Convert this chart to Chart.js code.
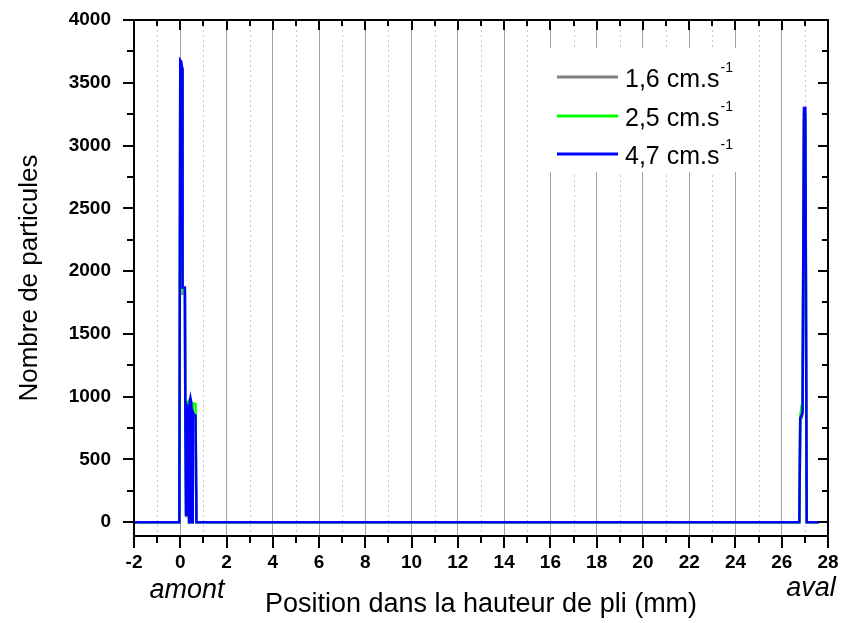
<!DOCTYPE html>
<html>
<head>
<meta charset="utf-8">
<script src="https://cdn.jsdelivr.net/npm/chart.js@4/dist/chart.umd.min.js"></script>
<style>
  body { margin: 0; background: #fff; }
  #graphique { display: block; }
</style>
</head>
<body>
<canvas id="graphique" width="843" height="623"></canvas>
<script>
// Positions (mm) communes aux trois séries
const positions = [-2, -0.04, 0, 0.04, 0.08, 0.1, 0.2, 0.22, 0.25, 0.28, 0.31, 0.34, 0.38, 0.41, 0.44, 0.48, 0.51,
  0.54, 0.58, 0.62, 0.66, 0.7, 26.76, 26.8, 26.86, 26.9, 26.96, 27.02, 27.08, 27.6];

// Nombre de particules pour chaque vitesse
const vitesse16 = [0, 0, 3600, 3590, 3550, 1820, 1820, 830, 50, 900, 890, 910, 0, 930, 950, 920, 0,
  860, 850, 840, 840, 0, 0, 810, 830, 860, 3200, 3200, 0, 0];
const vitesse25 = [0, 0, 3650, 3640, 3600, 1850, 1850, 850, 60, 955, 945, 955, 0, 950, 960, 950, 0,
  940, 945, 945, 940, 0, 0, 840, 930, 930, 3250, 3250, 0, 0];
const vitesse47 = [0, 0, 3680, 3670, 3620, 1870, 1870, 840, 60, 920, 900, 940, 0, 960, 990, 950, 0,
  880, 860, 850, 850, 0, 0, 830, 850, 880, 3300, 3300, 0, 0];

const legendes = ["1,6 cm.s", "2,5 cm.s", "4,7 cm.s"];
const couleurs = ["#808080", "#00ff00", "#0000ff"];

// Graduations
const xTicks = [-2, 0, 2, 4, 6, 8, 10, 12, 14, 16, 18, 20, 22, 24, 26, 28];
const yTicks = [0, 500, 1000, 1500, 2000, 2500, 3000, 3500, 4000];

const police = "'Liberation Sans', Arial, sans-serif";

function points(valeurs) {
  return positions.map((x, i) => ({ x: x, y: valeurs[i] }));
}

// Cadre, graduations, lignes pointillées, légende et annotations
const decor = {
  id: "decor",
  beforeDatasetsDraw(chart) {
    const { ctx, chartArea: a, scales: { x } } = chart;
    ctx.save();
    ctx.strokeStyle = "#c8c8c8";
    ctx.lineWidth = 1;
    ctx.setLineDash([2, 3]);
    for (let v = x.min + 1; v < x.max; v += 2) {
      const px = Math.round(x.getPixelForValue(v)) + 0.5;
      ctx.beginPath();
      ctx.moveTo(px, a.top);
      ctx.lineTo(px, a.bottom);
      ctx.stroke();
    }
    ctx.restore();
  },
  afterDraw(chart) {
    const { ctx, chartArea: a, scales: { x, y } } = chart;
    ctx.save();

    // légende
    ctx.fillStyle = "#fff";
    ctx.fillRect(545, 48, 210, 124);
    const lignesY = [77, 116, 154];
    for (let i = 0; i < legendes.length; i++) {
      ctx.strokeStyle = couleurs[i];
      ctx.lineWidth = 3;
      ctx.beginPath();
      ctx.moveTo(557, lignesY[i]);
      ctx.lineTo(618, lignesY[i]);
      ctx.stroke();
      ctx.fillStyle = "#000";
      ctx.textAlign = "left";
      ctx.textBaseline = "alphabetic";
      ctx.font = "25px " + police;
      ctx.fillText(legendes[i], 625, lignesY[i] + 9.5);
      const w = ctx.measureText(legendes[i]).width;
      ctx.font = "14px " + police;
      ctx.fillText("-1", 625 + w + 1, lignesY[i] - 5);
    }

    // cadre
    ctx.strokeStyle = "#000";
    ctx.lineWidth = 2;
    ctx.strokeRect(a.left, a.top, a.right - a.left, a.bottom - a.top);

    // graduations x
    for (let v = x.min; v <= x.max; v++) {
      const px = Math.round(x.getPixelForValue(v));
      const major = v % 2 === 0;
      ctx.beginPath();
      ctx.moveTo(px, a.bottom);
      ctx.lineTo(px, a.bottom + (major ? 12 : 7));
      ctx.moveTo(px, a.top);
      ctx.lineTo(px, a.top + (major ? 10 : 6));
      ctx.stroke();
    }
    // graduations y
    for (let v = 0; v <= 4000; v += 250) {
      const py = Math.round(y.getPixelForValue(v));
      const major = v % 500 === 0;
      ctx.beginPath();
      ctx.moveTo(a.left, py);
      ctx.lineTo(a.left - (major ? 11 : 7), py);
      ctx.moveTo(a.right, py);
      ctx.lineTo(a.right - (major ? 10 : 6), py);
      ctx.stroke();
    }

    // amont / aval
    ctx.fillStyle = "#000";
    ctx.font = "italic 27px " + police;
    ctx.textAlign = "center";
    ctx.textBaseline = "alphabetic";
    ctx.fillText("amont", 187, 598);
    ctx.fillText("aval", 811, 596);
    ctx.restore();
  }
};

const config = {
  type: "line",
  data: {
    datasets: [
      { label: legendes[0], data: points(vitesse16), borderColor: couleurs[0], order: 3 },
      { label: legendes[1], data: points(vitesse25), borderColor: couleurs[1], order: 2 },
      { label: legendes[2], data: points(vitesse47), borderColor: couleurs[2], order: 1 },
    ],
  },
  options: {
    responsive: false,
    animation: false,
    devicePixelRatio: 1,
    layout: { padding: { left: 0, right: 15, top: 20, bottom: 0 } },
    elements: {
      line: { borderWidth: 2.5, tension: 0, fill: false },
      point: { radius: 0 },
    },
    plugins: { legend: { display: false }, tooltip: { enabled: false } },
    scales: {
      x: {
        type: "linear",
        min: -2,
        max: 28,
        afterBuildTicks: (s) => { s.ticks = xTicks.map(v => ({ value: v })); },
        afterFit: (s) => { s.height = 87; s.paddingLeft = 0; s.paddingRight = 0; },
        ticks: {
          color: "#000",
          padding: 15,
          maxRotation: 0,
          autoSkip: false,
          callback: (v) => String(v),
          font: { family: police, size: 19, weight: "bold" },
        },
        grid: {
          drawTicks: false,
          lineWidth: 1,
          color: (c) => (c.tick && c.tick.value > -2 && c.tick.value < 28) ? "#a0a0a0" : "rgba(0,0,0,0)",
        },
        border: { display: false },
        title: {
          display: true,
          text: "Position dans la hauteur de pli (mm)",
          color: "#000",
          font: { family: police, size: 27 },
          padding: { top: 2, bottom: 2 },
        },
      },
      y: {
        min: -110,
        max: 4000,
        afterBuildTicks: (s) => { s.ticks = yTicks.map(v => ({ value: v })); },
        afterFit: (s) => { s.width = 134; s.paddingTop = 0; s.paddingBottom = 0; },
        ticks: {
          color: "#000",
          padding: 15,
          callback: (v) => String(v),
          font: { family: police, size: 19, weight: "bold" },
        },
        grid: { display: false },
        border: { display: false },
        title: {
          display: true,
          text: "Nombre de particules",
          color: "#000",
          font: { family: police, size: 26 },
          padding: { top: 14, bottom: 14 },
        },
      },
    },
  },
  plugins: [decor],
};

const graphique = new Chart(document.querySelector("#graphique"), config);
</script>
</body>
</html>
